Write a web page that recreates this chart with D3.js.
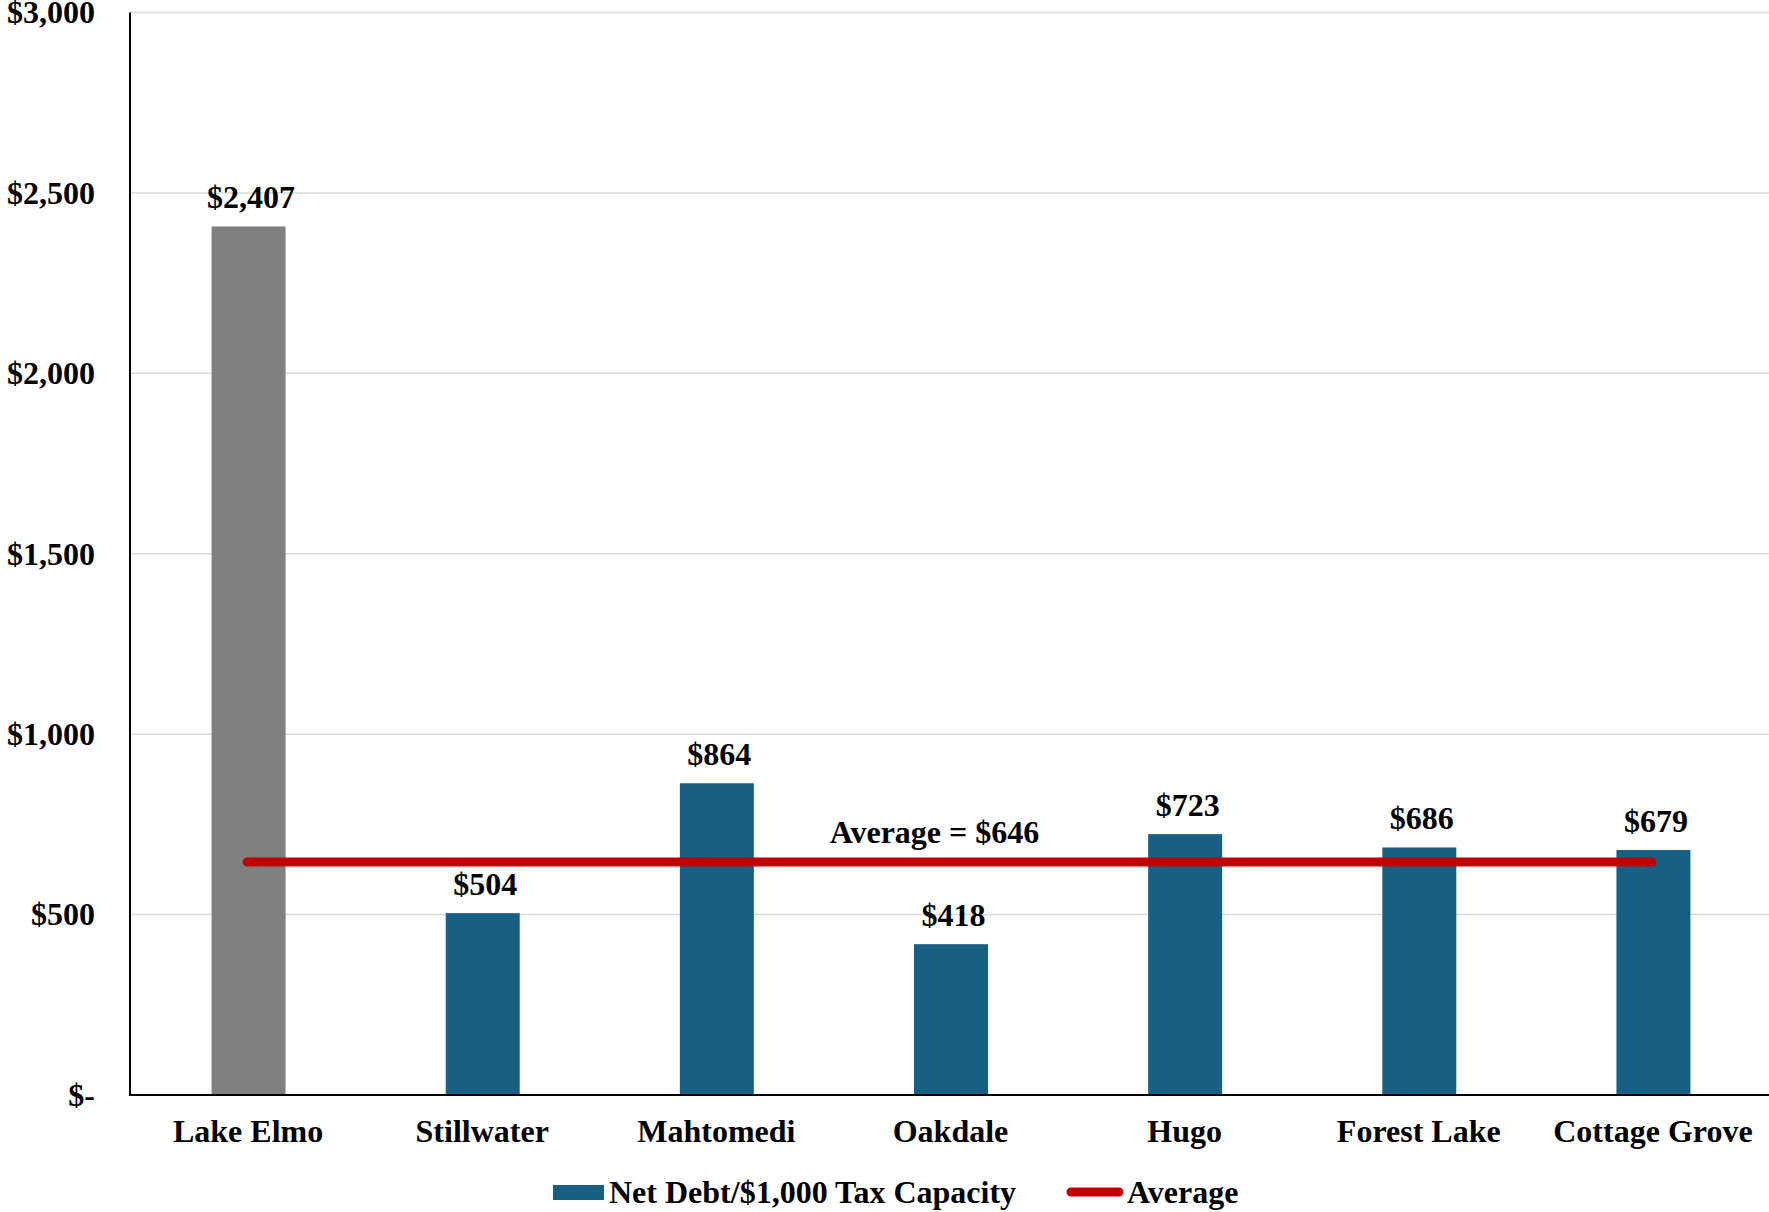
<!DOCTYPE html>
<html>
<head>
<meta charset="utf-8">
<script src="https://cdn.jsdelivr.net/npm/d3@7"></script>
<style>
  html, body { margin: 0; padding: 0; background: #ffffff; }
  svg { display: block; }
  text { font-family: "Liberation Serif", "Times New Roman", serif; font-weight: bold; fill: #000; }
</style>
</head>
<body>
<svg id="chart" width="1769" height="1212"></svg>
<script>
// Net debt per $1,000 of tax capacity by city
const categories = ["Lake Elmo", "Stillwater", "Mahtomedi", "Oakdale", "Hugo", "Forest Lake", "Cottage Grove"];
const netDebt = [2407, 504, 864, 418, 723, 686, 679];
const valueLabels = ["$2,407", "$504", "$864", "$418", "$723", "$686", "$679"];
const averageValue = 646;
const averageLabel = "Average = $646";
const yTicks = [0, 500, 1000, 1500, 2000, 2500, 3000];
const yTickLabels = ["$-", "$500", "$1,000", "$1,500", "$2,000", "$2,500", "$3,000"];
const legendLabels = ["Net Debt/$1,000 Tax Capacity", "Average"];

const W = 1769, H = 1212;
const margin = { top: 12.5, right: 0, bottom: 117, left: 130 };
const fontSize = 32;
const barColor = "#186083";
const highlightColor = "#808080";
const avgColor = "#C00000";

const svg = d3.select("#chart");

const x = d3.scaleBand()
  .domain(categories)
  .range([margin.left, W - margin.right])
  .padding(0);

const y = d3.scaleLinear()
  .domain([0, 3000])
  .range([H - margin.bottom, margin.top]);

const barW = x.bandwidth() * 0.316;
const barShift = 1.5;

// horizontal gridlines
svg.append("g")
  .selectAll("line")
  .data(yTicks.filter(d => d > 0))
  .join("line")
  .attr("x1", margin.left)
  .attr("x2", W)
  .attr("y1", d => y(d))
  .attr("y2", d => y(d))
  .attr("stroke", "#D9D9D9")
  .attr("stroke-width", 1.5);

// y tick labels
svg.append("g")
  .selectAll("text")
  .data(yTicks)
  .join("text")
  .attr("x", 95)
  .attr("y", d => y(d))
  .attr("dy", "0.34em")
  .attr("text-anchor", "end")
  .style("font-size", fontSize + "px")
  .text((d, i) => yTickLabels[i]);

// bars
svg.append("g")
  .selectAll("rect")
  .data(netDebt)
  .join("rect")
  .attr("x", (d, i) => x(categories[i]) + (x.bandwidth() - barW) / 2 + barShift)
  .attr("width", barW)
  .attr("y", d => y(d))
  .attr("height", d => y(0) - y(d))
  .attr("fill", (d, i) => i === 0 ? highlightColor : barColor);

// value labels above bars
svg.append("g")
  .selectAll("text")
  .data(netDebt)
  .join("text")
  .attr("x", (d, i) => x(categories[i]) + x.bandwidth() / 2 + 4)
  .attr("y", d => y(d) - 18)
  .attr("text-anchor", "middle")
  .style("font-size", fontSize + "px")
  .text((d, i) => valueLabels[i]);

// axes lines
svg.append("line")
  .attr("x1", margin.left).attr("x2", margin.left)
  .attr("y1", margin.top).attr("y2", y(0) + 1)
  .attr("stroke", "#000").attr("stroke-width", 2);
svg.append("line")
  .attr("x1", margin.left - 1).attr("x2", W)
  .attr("y1", y(0)).attr("y2", y(0))
  .attr("stroke", "#000").attr("stroke-width", 2);

// category labels
svg.append("g")
  .selectAll("text")
  .data(categories)
  .join("text")
  .attr("x", d => x(d) + x.bandwidth() / 2 + 1)
  .attr("y", y(0) + 47)
  .attr("text-anchor", "middle")
  .style("font-size", fontSize + "px")
  .text(d => d);

// average line across category centres
const xFirst = x(categories[0]) + x.bandwidth() / 2;
const xLast = x(categories[categories.length - 1]) + x.bandwidth() / 2;
svg.append("line")
  .attr("x1", xFirst)
  .attr("x2", xLast)
  .attr("y1", y(averageValue))
  .attr("y2", y(averageValue))
  .attr("stroke", avgColor)
  .attr("stroke-width", 9)
  .attr("stroke-linecap", "round");

svg.append("text")
  .attr("x", x(categories[3]) + x.bandwidth() / 2 - 15)
  .attr("y", y(averageValue) - 19)
  .attr("text-anchor", "middle")
  .style("font-size", fontSize + "px")
  .text(averageLabel);

// legend
const legend = svg.append("g");
legend.append("rect")
  .attr("x", 553).attr("y", 1185)
  .attr("width", 51).attr("height", 15)
  .attr("fill", barColor);
legend.append("text")
  .attr("x", 609).attr("y", 1203)
  .style("font-size", fontSize + "px")
  .text(legendLabels[0]);
legend.append("line")
  .attr("x1", 1071).attr("x2", 1119)
  .attr("y1", 1192).attr("y2", 1192)
  .attr("stroke", avgColor)
  .attr("stroke-width", 9)
  .attr("stroke-linecap", "round");
legend.append("text")
  .attr("x", 1127).attr("y", 1203)
  .style("font-size", fontSize + "px")
  .text(legendLabels[1]);
</script>
</body>
</html>
